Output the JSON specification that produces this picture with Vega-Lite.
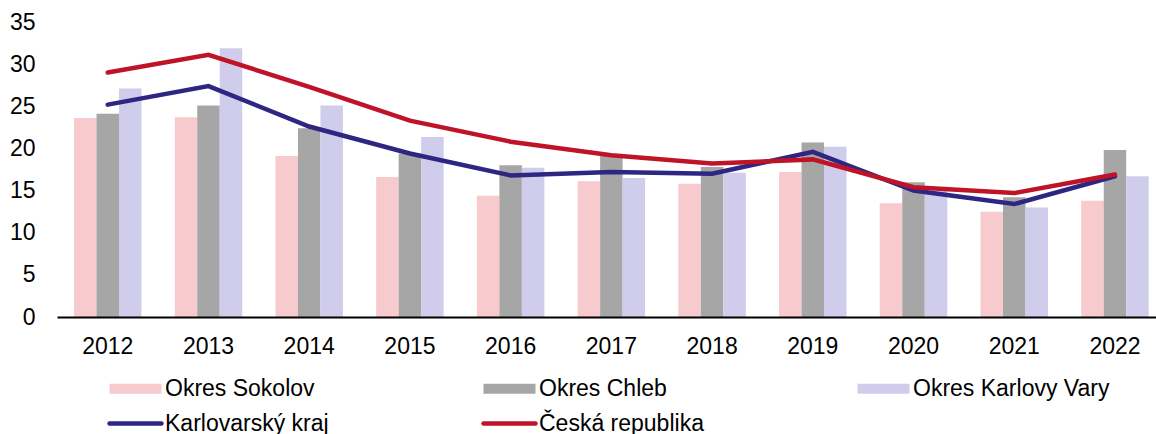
{
  "$schema": "https://vega.github.io/schema/vega-lite/v6.json",
  "width": 1099,
  "height": 295,
  "autosize": {"type": "none"},
  "padding": {"left": 57, "top": 22, "right": 0, "bottom": 117},
  "background": "white",
  "config": {
    "view": {"stroke": null},
    "font": "Liberation Sans",
    "axis": {"labelFont": "Liberation Sans", "labelFontSize": 23, "labelColor": "black", "title": null}
  },
  "datasets": {
    "rows": [
      {"year": "2012", "series": "Okres Sokolov", "value": 23.6},
      {"year": "2012", "series": "Okres Chleb", "value": 24.1},
      {"year": "2012", "series": "Okres Karlovy Vary", "value": 27.1},
      {"year": "2012", "series": "Karlovarský kraj", "value": 25.2},
      {"year": "2012", "series": "Česká republika", "value": 29.0},
      {"year": "2013", "series": "Okres Sokolov", "value": 23.7},
      {"year": "2013", "series": "Okres Chleb", "value": 25.1},
      {"year": "2013", "series": "Okres Karlovy Vary", "value": 31.9},
      {"year": "2013", "series": "Karlovarský kraj", "value": 27.4},
      {"year": "2013", "series": "Česká republika", "value": 31.1},
      {"year": "2014", "series": "Okres Sokolov", "value": 19.1},
      {"year": "2014", "series": "Okres Chleb", "value": 22.4},
      {"year": "2014", "series": "Okres Karlovy Vary", "value": 25.1},
      {"year": "2014", "series": "Karlovarský kraj", "value": 22.6},
      {"year": "2014", "series": "Česká republika", "value": 27.3},
      {"year": "2015", "series": "Okres Sokolov", "value": 16.6},
      {"year": "2015", "series": "Okres Chleb", "value": 19.4},
      {"year": "2015", "series": "Okres Karlovy Vary", "value": 21.35},
      {"year": "2015", "series": "Karlovarský kraj", "value": 19.4},
      {"year": "2015", "series": "Česká republika", "value": 23.3},
      {"year": "2016", "series": "Okres Sokolov", "value": 14.4},
      {"year": "2016", "series": "Okres Chleb", "value": 18.0},
      {"year": "2016", "series": "Okres Karlovy Vary", "value": 17.7},
      {"year": "2016", "series": "Karlovarský kraj", "value": 16.8},
      {"year": "2016", "series": "Česká republika", "value": 20.8},
      {"year": "2017", "series": "Okres Sokolov", "value": 16.1},
      {"year": "2017", "series": "Okres Chleb", "value": 19.1},
      {"year": "2017", "series": "Okres Karlovy Vary", "value": 16.5},
      {"year": "2017", "series": "Karlovarský kraj", "value": 17.2},
      {"year": "2017", "series": "Česká republika", "value": 19.2},
      {"year": "2018", "series": "Okres Sokolov", "value": 15.8},
      {"year": "2018", "series": "Okres Chleb", "value": 17.8},
      {"year": "2018", "series": "Okres Karlovy Vary", "value": 17.1},
      {"year": "2018", "series": "Karlovarský kraj", "value": 17.0},
      {"year": "2018", "series": "Česká republika", "value": 18.2},
      {"year": "2019", "series": "Okres Sokolov", "value": 17.2},
      {"year": "2019", "series": "Okres Chleb", "value": 20.7},
      {"year": "2019", "series": "Okres Karlovy Vary", "value": 20.2},
      {"year": "2019", "series": "Karlovarský kraj", "value": 19.6},
      {"year": "2019", "series": "Česká republika", "value": 18.7},
      {"year": "2020", "series": "Okres Sokolov", "value": 13.5},
      {"year": "2020", "series": "Okres Chleb", "value": 16.0},
      {"year": "2020", "series": "Okres Karlovy Vary", "value": 15.0},
      {"year": "2020", "series": "Karlovarský kraj", "value": 15.0},
      {"year": "2020", "series": "Česká republika", "value": 15.4},
      {"year": "2021", "series": "Okres Sokolov", "value": 12.5},
      {"year": "2021", "series": "Okres Chleb", "value": 14.2},
      {"year": "2021", "series": "Okres Karlovy Vary", "value": 13.0},
      {"year": "2021", "series": "Karlovarský kraj", "value": 13.4},
      {"year": "2021", "series": "Česká republika", "value": 14.7},
      {"year": "2022", "series": "Okres Sokolov", "value": 13.8},
      {"year": "2022", "series": "Okres Chleb", "value": 19.8},
      {"year": "2022", "series": "Okres Karlovy Vary", "value": 16.7},
      {"year": "2022", "series": "Karlovarský kraj", "value": 16.7},
      {"year": "2022", "series": "Česká republika", "value": 16.9}
    ]
  },
  "data": {"name": "rows"},
  "encoding": {
    "x": {
      "field": "year",
      "type": "ordinal",
      "scale": {"paddingInner": 0.33, "paddingOuter": 0.1206, "align": 0.7},
      "axis": {"labelAngle": 0, "ticks": false, "tickSize": 0, "domainColor": "black", "domainWidth": 2, "labelPadding": 18, "zindex": 1}
    },
    "color": {
      "field": "series",
      "type": "nominal",
      "scale": {
        "domain": ["Okres Sokolov", "Okres Chleb", "Okres Karlovy Vary", "Karlovarský kraj", "Česká republika"],
        "range": ["#F7CACD", "#A6A6A6", "#D0CCEC", "#2F2683", "#BF1428"]
      },
      "legend": {
        "title": null,
        "orient": "none",
        "legendX": 67,
        "legendY": 355,
        "direction": "horizontal",
        "columns": 3,
        "gridAlign": "all",
        "columnPadding": 112,
        "rowPadding": 11,
        "padding": 0,
        "symbolSize": 2704,
        "labelFont": "Liberation Sans",
        "labelFontSize": 23,
        "labelColor": "black",
        "labelOffset": 18,
        "labelLimit": 400,
        "encode": {
          "symbols": {
            "update": {
              "shape": {"signal": "(datum.value == 'Karlovarský kraj' || datum.value == 'Česká republika') ? 'M-1,0H1' : 'M-1,-0.19H1V0.19H-1Z'"},
              "fill": {"signal": "datum.value == 'Okres Sokolov' ? '#F7CACD' : datum.value == 'Okres Chleb' ? '#A6A6A6' : datum.value == 'Okres Karlovy Vary' ? '#D0CCEC' : 'transparent'"},
              "stroke": {"signal": "datum.value == 'Karlovarský kraj' ? '#2F2683' : datum.value == 'Česká republika' ? '#BF1428' : 'transparent'"},
              "strokeWidth": {"signal": "(datum.value == 'Karlovarský kraj' || datum.value == 'Česká republika') ? 4.5 : 0"},
              "strokeCap": {"value": "round"},
              "opacity": {"value": 1}
            }
          }
        }
      }
    }
  },
  "layer": [
    {
      "transform": [{"filter": "indexof(['Okres Sokolov','Okres Chleb','Okres Karlovy Vary'], datum.series) >= 0"}],
      "mark": {"type": "bar"},
      "encoding": {
        "y": {
          "field": "value",
          "type": "quantitative",
          "scale": {"domain": [0, 35], "nice": false},
          "axis": {"values": [0, 5, 10, 15, 20, 25, 30, 35], "grid": false, "domain": false, "ticks": false, "tickSize": 0, "labelPadding": 22}
        },
        "xOffset": {
          "field": "series",
          "type": "nominal",
          "scale": {"domain": ["Okres Sokolov", "Okres Chleb", "Okres Karlovy Vary"], "paddingInner": 0, "paddingOuter": 0}
        }
      }
    },
    {
      "transform": [{"filter": "datum.series == 'Karlovarský kraj'"}],
      "mark": {"type": "line", "strokeWidth": 4.5, "strokeCap": "round"},
      "encoding": {"y": {"field": "value", "type": "quantitative"}}
    },
    {
      "transform": [{"filter": "datum.series == 'Česká republika'"}],
      "mark": {"type": "line", "strokeWidth": 4.5, "strokeCap": "round"},
      "encoding": {"y": {"field": "value", "type": "quantitative"}}
    }
  ]
}
